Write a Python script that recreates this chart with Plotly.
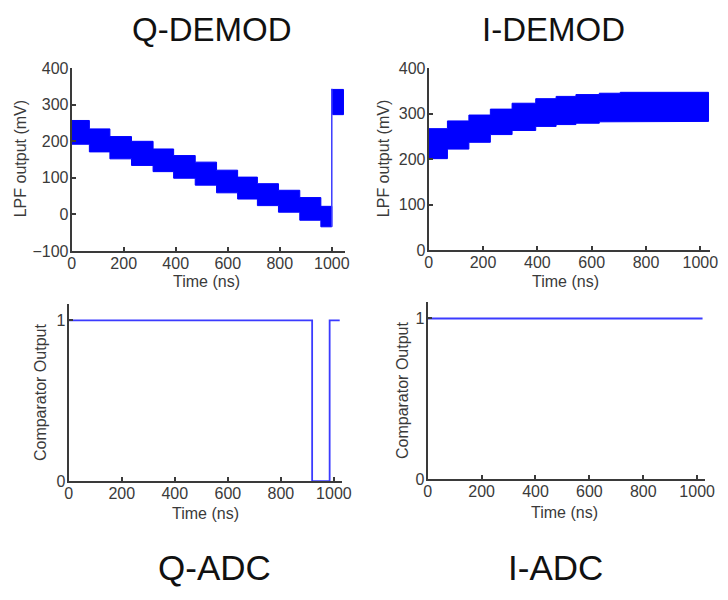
import plotly.graph_objects as go

# ---------------- data ----------------
# Q-DEMOD: LPF output band (staircase), edges in ns, upper/lower envelope in mV
q_edges = [0, 68, 147, 230, 313, 392, 475, 557, 638, 714, 795, 877, 958, 1000]
q_upper = [257, 234, 213, 200, 179, 161, 143, 121, 102, 84, 66, 46, 22]
q_lower = [192, 171, 152, 134, 117, 99, 80, 59, 42, 24, 6, -16, -34]
# after the jump at ~1000 ns
q_jump_t = 1000
q_tail_edges = [1004, 1045]
q_tail_upper = [342]
q_tail_lower = [273]

# I-DEMOD band
i_edges = [0, 69, 148, 227, 307, 394, 469, 542, 628, 705, 1030]
i_upper = [267, 284, 297, 310, 323, 333, 338, 342, 345, 347]
i_lower = [201, 222, 237, 254, 263, 272, 276, 279, 282, 283]

# Comparator outputs
q_adc_t = [0, 918, 918, 984, 984, 1022]
q_adc_v = [1, 1, 0, 0, 1, 1]
i_adc_t = [0, 1020]
i_adc_v = [1, 1]

x_ticks = [0, 200, 400, 600, 800, 1000]

BLUE = "#0000ff"
LINE_BLUE = "#3b3bff"
AX = "#3a3a3a"
FONT = "Liberation Sans"


def band_polygon(edges, upper, lower):
    xs, ys = [], []
    for k in range(len(upper)):
        xs += [edges[k], edges[k + 1]]
        ys += [upper[k], upper[k]]
    for k in range(len(lower) - 1, -1, -1):
        xs += [edges[k + 1], edges[k]]
        ys += [lower[k], lower[k]]
    xs.append(xs[0])
    ys.append(ys[0])
    return xs, ys


fig = go.Figure()

# Q-DEMOD
qx, qy = band_polygon(q_edges, q_upper, q_lower)
fig.add_trace(go.Scatter(x=qx, y=qy, fill="toself", fillcolor=BLUE, mode="lines",
                         line=dict(color=BLUE, width=1), xaxis="x", yaxis="y",
                         hoverinfo="skip", showlegend=False))
fig.add_trace(go.Scatter(x=[q_jump_t, q_jump_t, q_tail_edges[0]],
                         y=[q_lower[-1], q_tail_upper[0], q_tail_upper[0]],
                         mode="lines", line=dict(color=LINE_BLUE, width=1.5),
                         xaxis="x", yaxis="y", hoverinfo="skip", showlegend=False))
tx, ty = band_polygon(q_tail_edges, q_tail_upper, q_tail_lower)
fig.add_trace(go.Scatter(x=tx, y=ty, fill="toself", fillcolor=BLUE, mode="lines",
                         line=dict(color=BLUE, width=1), xaxis="x", yaxis="y",
                         hoverinfo="skip", showlegend=False))

# I-DEMOD
ix, iy = band_polygon(i_edges, i_upper, i_lower)
fig.add_trace(go.Scatter(x=ix, y=iy, fill="toself", fillcolor=BLUE, mode="lines",
                         line=dict(color=BLUE, width=1), xaxis="x2", yaxis="y2",
                         hoverinfo="skip", showlegend=False))

# Q-ADC
fig.add_trace(go.Scatter(x=q_adc_t, y=q_adc_v, mode="lines",
                         line=dict(color=LINE_BLUE, width=1.8), xaxis="x3", yaxis="y3",
                         hoverinfo="skip", showlegend=False))
# I-ADC
fig.add_trace(go.Scatter(x=i_adc_t, y=i_adc_v, mode="lines",
                         line=dict(color=LINE_BLUE, width=1.8), xaxis="x4", yaxis="y4",
                         hoverinfo="skip", showlegend=False))

W, H = 728, 600


def px_x(a, b):
    return [a / W, b / W]


def px_y(top, bottom):
    return [1 - bottom / H, 1 - top / H]


tickfont = dict(family=FONT, size=16, color=AX)
common = dict(showline=True, linecolor=AX, linewidth=2, ticks="inside", ticklen=4,
              tickcolor=AX, tickwidth=1.5, showgrid=False, zeroline=False,
              tickfont=tickfont, fixedrange=True)
xcommon = dict(common, ticklabelstandoff=-3)
ycommon = dict(common, ticklabelstandoff=-2)

layout = dict(
    width=W, height=H, margin=dict(l=0, r=0, t=0, b=0),
    paper_bgcolor="white", plot_bgcolor="white", showlegend=False,
    xaxis=dict(domain=px_x(69, 348), range=[0, 1052], tickvals=x_ticks, anchor="y", **xcommon),
    yaxis=dict(domain=px_y(62, 250), range=[-100, 400], tickvals=[-100, 0, 100, 200, 300, 400],
               anchor="x", **ycommon),
    xaxis2=dict(domain=px_x(433, 720), range=[0, 1036], tickvals=x_ticks, anchor="y2", **xcommon),
    yaxis2=dict(domain=px_y(62, 249), range=[0, 400], tickvals=[0, 100, 200, 300, 400],
                anchor="x2", **ycommon),
    xaxis3=dict(domain=px_x(66, 345), range=[0, 1032], tickvals=x_ticks, anchor="y3", **xcommon),
    yaxis3=dict(domain=px_y(305, 487), range=[0, 1.1], tickvals=[0, 1], anchor="x3", **ycommon),
    xaxis4=dict(domain=px_x(432, 715), range=[0, 1030], tickvals=x_ticks, anchor="y4", **xcommon),
    yaxis4=dict(domain=px_y(303, 485), range=[0, 1.1], tickvals=[0, 1], anchor="x4", **ycommon),
)
fig.update_layout(**layout)

lab = dict(family=FONT, size=16, color=AX)
title_font = dict(family=FONT, size=33, color="#111111")
title_font2 = dict(family=FONT, size=35, color="#111111")


def ann(text, x, y, font, angle=0):
    fig.add_annotation(text=text, x=x / W, y=1 - y / H, xref="paper", yref="paper",
                       showarrow=False, font=font, textangle=angle,
                       xanchor="center", yanchor="middle")


ann("Q-DEMOD", 212, 22, title_font)
ann("I-DEMOD", 560, 22, title_font)
ann("Q-ADC", 215, 576, title_font2)
ann("I-ADC", 562, 576, title_font2)

ann("Time (ns)", 206, 281, lab)
ann("Time (ns)", 572, 281, lab)
ann("Time (ns)", 205, 520, lab)
ann("Time (ns)", 571, 519, lab)

ann("LPF output (mV)", 17, 155, lab, -90)
ann("LPF output (mV)", 387, 155, lab, -90)
ann("Comparator Output", 38, 395, lab, -90)
ann("Comparator Output", 407, 393, lab, -90)

fig.write_html("out.html")
